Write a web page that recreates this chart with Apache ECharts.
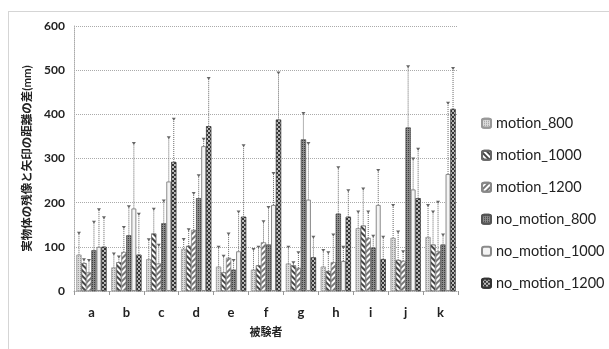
<!DOCTYPE html>
<html>
<head>
<meta charset="utf-8">
<script src="https://cdn.jsdelivr.net/npm/echarts@6/dist/echarts.min.js"></script>
<style>
  html, body { margin: 0; padding: 0; background: #fff; }
  #main { width: 609px; height: 349px; }
</style>
</head>
<body>
<div id="main"></div>
<script>
let categories = ['a', 'b', 'c', 'd', 'e', 'f', 'g', 'h', 'i', 'j', 'k']
let seriesNames = ['motion_800', 'motion_1000', 'motion_1200', 'no_motion_800', 'no_motion_1000', 'no_motion_1200']

// mean values
let motion800 = [82, 53, 72, 95, 55, 48, 62, 55, 142, 120, 122]
let motion1000 = [63, 65, 130, 102, 42, 58, 58, 45, 148, 70, 105]
let motion1200 = [42, 88, 62, 138, 75, 110, 52, 65, 120, 68, 90]
let noMotion800 = [92, 126, 153, 210, 48, 105, 343, 175, 98, 370, 105]
let noMotion1000 = [100, 187, 248, 328, 90, 195, 207, 68, 195, 230, 265]
let noMotion1200 = [100, 82, 292, 373, 168, 388, 76, 168, 72, 210, 412]

// top of the error bar (mean + sd)
let motion800Err = [132, 85, 117, 118, 100, 95, 100, 93, 180, 195, 195]
let motion1000Err = [72, 78, 186, 140, 80, 100, 65, 88, 232, 135, 180]
let motion1200Err = [70, 145, 105, 222, 130, 158, 88, 128, 180, 90, 202]
let noMotion800Err = [157, 192, 205, 262, 70, 190, 403, 280, 125, 509, 128]
let noMotion1000Err = [185, 335, 348, 345, 180, 267, 335, 100, 274, 300, 426]
let noMotion1200Err = [167, 175, 390, 482, 330, 495, 123, 228, 123, 322, 505]

let yTicks = [0, 100, 200, 300, 400, 500, 600]

let means = [motion800, motion1000, motion1200, noMotion800, noMotion1000, noMotion1200]
let errs = [motion800Err, motion1000Err, motion1200Err, noMotion800Err, noMotion1000Err, noMotion1200Err]

const barW = 5
const font = 'Lato, "Noto Sans CJK JP", sans-serif'

let styles = [
    {color: '#dcdcdc', borderColor: '#999', borderWidth: 0.5,
        decal: {symbol: 'rect', symbolSize: 1, dashArrayX: [1, 1], dashArrayY: [1, 1], color: '#9a9a9a'}},
    {color: '#ffffff', borderColor: '#666', borderWidth: 0.5,
        decal: {symbol: 'rect', symbolSize: 1, dashArrayX: [1, 0], dashArrayY: [1.5, 1.5], rotation: Math.PI / 4, color: '#444'}},
    {color: '#ffffff', borderColor: '#888', borderWidth: 0.5,
        decal: {symbol: 'rect', symbolSize: 1, dashArrayX: [1, 0], dashArrayY: [1.5, 2], rotation: -Math.PI / 4, color: '#777'}},
    {color: '#8c8c8c', borderColor: '#555', borderWidth: 0.5,
        decal: {symbol: 'rect', symbolSize: 1, dashArrayX: [1, 1], dashArrayY: [1, 1], color: '#3c3c3c'}},
    {color: '#f4f4f4', borderColor: '#8a8a8a', borderWidth: 1},
    {color: '#333333', borderColor: '#333', borderWidth: 0.5,
        decal: {symbol: 'circle', symbolSize: 0.9, dashArrayX: [[2, 2], [0, 2, 2, 0]], dashArrayY: [2, 0], color: '#ffffff'}}
]

let series = []
seriesNames.forEach((name, i) => {
    series.push({
        name: name,
        type: 'bar',
        barWidth: barW,
        barGap: '0%',
        itemStyle: styles[i],
        data: means[i]
    })
})
seriesNames.forEach((name, i) => {
    series.push({
        name: 'err_' + i,
        type: 'custom',
        z: 5,
        silent: true,
        encode: {x: 0, y: [1, 2]},
        data: categories.map((c, k) => [k, means[i][k], errs[i][k]]),
        renderItem: function (params, api) {
            let pMean = api.coord([api.value(0), api.value(1)])
            let pTop = api.coord([api.value(0), api.value(2)])
            let x = pMean[0] + (i - 2.5) * barW
            let lineColor = '#666'
            return {
                type: 'group',
                children: [
                    {
                        type: 'line',
                        shape: {x1: x, y1: pMean[1], x2: x, y2: pTop[1]},
                        style: {stroke: lineColor, lineWidth: 1, lineDash: [1, 1]}
                    },
                    {
                        type: 'polygon',
                        shape: {points: [[x - 2, pTop[1] - 1], [x + 2, pTop[1] - 1], [x, pTop[1] + 2]]},
                        style: {fill: lineColor}
                    }
                ]
            }
        }
    })
})

let myChart = echarts.init(document.getElementById('main'))
let option = {
    animation: false,
    backgroundColor: '#fff',
    graphic: [{
        type: 'rect',
        shape: {x: 8.5, y: 11.5, width: 700, height: 400},
        style: {fill: 'none', stroke: '#aaa', lineWidth: 1, lineDash: [1, 1]},
        silent: true
    }],
    grid: {left: 74, right: 151, top: 26, bottom: 58},
    legend: {
        data: seriesNames,
        orient: 'vertical',
        left: 476,
        top: 111,
        itemWidth: 9,
        itemHeight: 9,
        itemGap: 17.5,
        textStyle: {fontSize: 14.5, fontFamily: font, color: '#222'}
    },
    xAxis: {
        type: 'category',
        data: categories,
        name: '被験者',
        nameLocation: 'middle',
        nameGap: 36,
        nameTextStyle: {fontSize: 11, fontWeight: 'bold', color: '#222', fontFamily: font},
        axisLine: {lineStyle: {color: '#aaa', type: 'dotted'}},
        axisTick: {show: true, length: 4, lineStyle: {color: '#999'}},
        axisLabel: {margin: 15, fontSize: 13, fontWeight: 'bold', color: '#222', fontFamily: font}
    },
    yAxis: {
        type: 'value',
        min: yTicks[0],
        max: yTicks[yTicks.length - 1],
        interval: 100,
        name: '実物体の残像と矢印の距離の差(mm)',
        nameLocation: 'middle',
        nameGap: 34,
        nameTextStyle: {fontSize: 11.5, fontWeight: 'bold', color: '#222', fontFamily: font},
        axisLine: {show: true, lineStyle: {color: '#aaa', type: 'dotted'}},
        axisTick: {show: false},
        splitLine: {lineStyle: {color: '#aaa', type: 'dotted'}},
        axisLabel: {margin: 9, fontSize: 12, fontWeight: 'bold', color: '#222', fontFamily: font}
    },
    series: series
}
myChart.setOption(option)
</script>
</body>
</html>
